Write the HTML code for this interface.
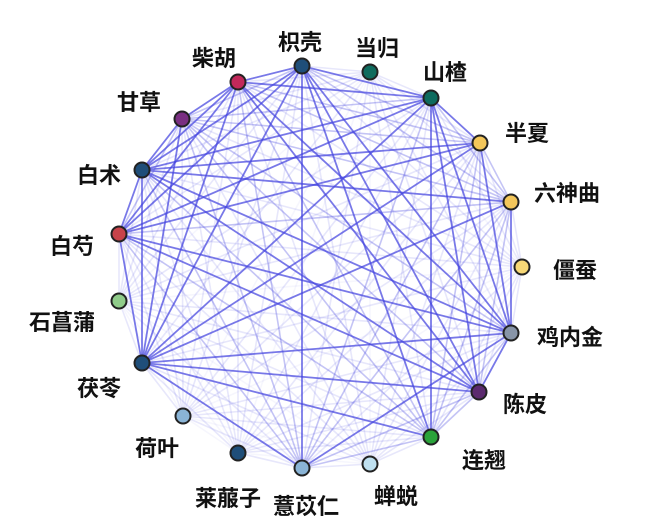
<!DOCTYPE html>
<html><head><meta charset="utf-8"><style>
body{margin:0;background:#fff;width:645px;height:526px;overflow:hidden}
text{font-family:"Liberation Sans","Noto Sans CJK SC",sans-serif;font-size:22px;fill:#111;font-weight:bold}
</style></head><body>
<svg id="s" width="645" height="526" xmlns="http://www.w3.org/2000/svg">
<g id="e"></g><g id="n"></g><g id="t"></g>
</svg>
<script>
var N={
"枳壳":[302,66,"#1f4e79",300,42],
"当归":[370,72,"#0e6b5e",377,48],
"山楂":[431,98,"#0e6b5e",445,72],
"半夏":[480,143,"#f3c65a",527,133],
"六神曲":[511,202,"#f3c65a",567,193],
"僵蚕":[522,267,"#f7d877",575,270],
"鸡内金":[511,333,"#8895a8",570,337],
"陈皮":[479,392,"#5b2a6e",525,404],
"连翘":[431,437,"#2aa33a",484,460],
"蝉蜕":[370,464,"#bfe0f0",396,496],
"薏苡仁":[302,468,"#8ab4d6",306,506],
"莱菔子":[238,453,"#1f4e79",228,498],
"荷叶":[183,416,"#8ab4d6",157,448],
"茯苓":[142,363,"#1f4e79",99,388],
"石菖蒲":[119,301,"#90cc8a",62,322],
"白芍":[119,234,"#c8434a",72,246],
"白术":[142,170,"#1f4e79",99,175],
"甘草":[182,119,"#7a2f82",139,102],
"柴胡":[238,82,"#c2285a",214,58]};
var k=Object.keys(N),ns="http://www.w3.org/2000/svg",E=document.getElementById("e");
function L(a,b,w,o){var l=document.createElementNS(ns,"line");l.setAttribute("x1",N[a][0]);l.setAttribute("y1",N[a][1]);l.setAttribute("x2",N[b][0]);l.setAttribute("y2",N[b][1]);l.setAttribute("stroke","#4646e0");l.setAttribute("stroke-width",w);l.setAttribute("stroke-opacity",o);E.appendChild(l);}
var skip={"当归":1,"僵蚕":1,"石菖蒲":0.5,"蝉蜕":0.6,"荷叶":0.6,"莱菔子":0.6};
for(var i=0;i<k.length;i++)for(var j=i+1;j<k.length;j++){var f=(skip[k[i]]?0.4:1)*(skip[k[j]]?0.4:1);L(k[i],k[j],1.6,0.32*f);}
var S={"茯苓":["白术","柴胡","枳壳","山楂","鸡内金","陈皮","半夏","六神曲","白芍","薏苡仁","连翘","甘草"],
"白术":["枳壳","柴胡","山楂","鸡内金","陈皮","白芍","半夏","甘草","六神曲"],
"枳壳":["鸡内金","陈皮","山楂","白芍","薏苡仁","柴胡","连翘"],
"山楂":["鸡内金","陈皮","白芍","连翘","柴胡","半夏"],
"鸡内金":["白芍","柴胡","半夏","六神曲","薏苡仁","陈皮"],
"柴胡":["陈皮","白芍","甘草"],
"白芍":["半夏","陈皮"]};
for(var a in S)S[a].forEach(function(b){L(a,b,1.8,0.6)});
var G=document.getElementById("n"),T=document.getElementById("t");
k.forEach(function(x){var d=N[x];var c=document.createElementNS(ns,"circle");c.setAttribute("cx",d[0]);c.setAttribute("cy",d[1]);c.setAttribute("r",7.5);c.setAttribute("fill",d[2]);c.setAttribute("stroke","#222");c.setAttribute("stroke-width",2);G.appendChild(c);
var t=document.createElementNS(ns,"text");t.setAttribute("x",d[3]);t.setAttribute("y",d[4]+8);t.setAttribute("text-anchor","middle");t.textContent=x;T.appendChild(t);});
</script>
</body></html>
